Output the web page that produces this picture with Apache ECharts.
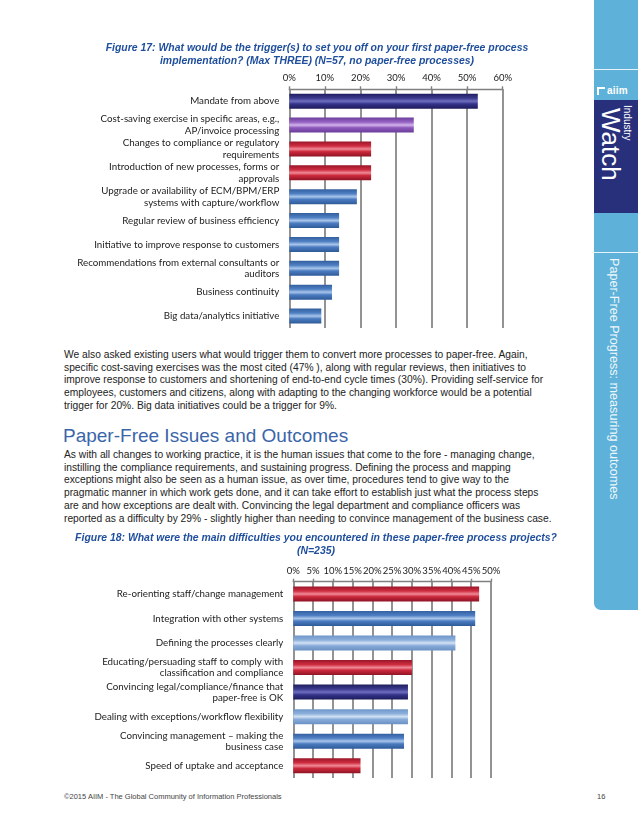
<!DOCTYPE html>
<html>
<head>
<meta charset="utf-8">
<script src="https://cdn.jsdelivr.net/npm/echarts@6/dist/echarts.min.js"></script>
<style>
  html,body{margin:0;padding:0;background:#fff;}
  #page{position:relative;width:638px;height:826px;overflow:hidden;font-family:"Liberation Sans",Arial,sans-serif;}
  #chart{position:absolute;left:0;top:0;width:638px;height:826px;}
  .para{position:absolute;left:64px;font-size:10.25px;line-height:12.7px;color:#222;white-space:nowrap;}
  .h2{position:absolute;left:63px;font-size:19px;color:#3b65a9;white-space:nowrap;}
  #side{position:absolute;left:594px;top:0;width:44px;height:610px;background:#5eb1d8;border-bottom-left-radius:7px;}
  .wl{position:absolute;left:0;width:44px;height:1px;background:rgba(255,255,255,0.85);}
  #navy{position:absolute;left:0;top:100px;width:44px;height:113px;background:#28307c;}
  .vt{position:absolute;writing-mode:vertical-rl;color:#fff;white-space:nowrap;}
  #foot{position:absolute;left:64px;top:792px;font-size:7.5px;color:#444;}
  #pg{position:absolute;left:597px;top:792px;font-size:7.5px;color:#444;}
</style>
</head>
<body>
<div id="page">
  <div id="side">
    <div class="wl" style="top:69px"></div>
    <div style="position:absolute;left:3px;top:85px;font-size:10px;font-weight:bold;color:#fff;letter-spacing:0.2px;"><span style="display:inline-block;width:8px;height:8px;border-left:2px solid #fff;border-top:2px solid #fff;box-sizing:border-box;margin-right:2px;vertical-align:-1px;"></span>aiim</div>
    <div id="navy">
      <div class="vt" style="left:28px;top:5px;font-size:10px;">Industry</div>
      <div class="vt" style="left:4px;top:8px;font-size:26px;line-height:25px;">Watch</div>
    </div>
    <div class="wl" style="top:252px"></div>
    <div class="vt" style="left:13px;top:258px;font-size:12.6px;color:#eef7fb;">Paper-Free Progress: measuring outcomes</div>
  </div>
  <div class="para" style="top:349px">We also asked existing users what would trigger them to convert more processes to paper-free. Again,<br>specific cost-saving exercises was the most cited (47% ), along with regular reviews, then initiatives to<br>improve response to customers and shortening of end-to-end cycle times (30%). Providing self-service for<br>employees, customers and citizens, along with adapting to the changing workforce would be a potential<br>trigger for 20%. Big data initiatives could be a trigger for 9%.</div>
  <div class="h2" style="top:425px">Paper-Free Issues and Outcomes</div>
  <div class="para" style="top:449px">As with all changes to working practice, it is the human issues that come to the fore - managing change,<br>instilling the compliance requirements, and sustaining progress. Defining the process and mapping<br>exceptions might also be seen as a human issue, as over time, procedures tend to give way to the<br>pragmatic manner in which work gets done, and it can take effort to establish just what the process steps<br>are and how exceptions are dealt with. Convincing the legal department and compliance officers was<br>reported as a difficulty by 29% - slightly higher than needing to convince management of the business case.</div>
  <div id="foot">©2015 AIIM - The Global Community of Information Professionals</div>
  <div id="pg">16</div>
  <div id="chart"></div>
</div>
<script>
// ---- Figure 17 data ----
const fig17Categories = [
  "Mandate from above",
  "Cost-saving exercise in specific areas, e.g.,\nAP/invoice processing",
  "Changes to compliance or regulatory\nrequirements",
  "Introduction of new processes, forms or\napprovals",
  "Upgrade or availability of ECM/BPM/ERP\nsystems with capture/workflow",
  "Regular review of business efficiency",
  "Initiative to improve response to customers",
  "Recommendations from external consultants or\nauditors",
  "Business continuity",
  "Big data/analytics initiative"
];
const fig17Values = [53, 35, 23, 23, 19, 14, 14, 14, 12, 9];
const fig17Colors = ["navy", "purple", "red", "red", "blue", "blue", "blue", "blue", "blue", "blue"];

// ---- Figure 18 data ----
const fig18Categories = [
  "Re-orienting staff/change management",
  "Integration with other systems",
  "Defining the processes clearly",
  "Educating/persuading staff to comply with\nclassification and compliance",
  "Convincing legal/compliance/finance that\npaper-free is OK",
  "Dealing with exceptions/workflow flexibility",
  "Convincing management \u2013 making the\nbusiness case",
  "Speed of uptake and acceptance"
];
const fig18Values = [47, 46, 41, 30, 29, 29, 28, 17];
const fig18Colors = ["red", "blue", "light", "red", "navy", "light", "blue", "red"];

const fig17Title = "Figure 17: What would be the trigger(s) to set you off on your first paper-free process\nimplementation? (Max THREE) (N=57, no paper-free processes)";
const fig18Title = "Figure 18: What were the main difficulties you encountered in these paper-free process projects?\n(N=235)";

const palettes = {
  navy:   ["#1f1e5e", "#3b3a8e", "#6f6fc0", "#34338a", "#1c1b58"],
  purple: ["#6d3f9c", "#9662c4", "#d2b4ea", "#8c58bc", "#6a3c98"],
  red:    ["#9a1628", "#cf2c40", "#f08a96", "#cc283c", "#8e1424"],
  blue:   ["#335f9f", "#4f80c4", "#a9c5ea", "#4a7bc0", "#2f5a98"],
  light:  ["#6f96c8", "#8cb0dc", "#d3e2f4", "#88acd9", "#6a91c4"]
};
function grad(name) {
  const c = palettes[name];
  return new echarts.graphic.LinearGradient(0, 0, 0, 1, [
    {offset: 0, color: c[0]}, {offset: 0.3, color: c[1]}, {offset: 0.5, color: c[2]},
    {offset: 0.68, color: c[3]}, {offset: 1, color: c[4]}
  ]);
}

const chart = echarts.init(document.getElementById('chart'), null, {renderer: 'canvas'});
const catLabel = {fontFamily: 'Lato, "Open Sans", sans-serif', fontSize: 9.75, color: '#222', lineHeight: 11.5, margin: 10, align: 'right'};
const gridLine = {show: true, lineStyle: {color: '#808080', width: 1.7}};
function valueAxis(gridIndex, max, interval) {
  return {
    type: 'value', gridIndex, position: 'top', min: 0, max, interval,
    axisLine: {show: true, lineStyle: {color: '#808080', width: 1.4}},
    axisTick: {show: true, length: 3, lineStyle: {color: '#808080', width: 1.4}},
    axisLabel: {formatter: '{value}%', fontFamily: 'Lato, sans-serif', fontSize: 9.5, color: '#222', margin: 6},
    splitLine: gridLine
  };
}
function catAxis(gridIndex, data) {
  return {
    type: 'category', gridIndex, data, inverse: true,
    axisLine: {show: false}, axisTick: {show: false},
    axisLabel: catLabel
  };
}
const titleStyle = {fontFamily: '"Liberation Sans", Arial', fontStyle: 'italic', fontWeight: 'bold', fontSize: 10.45, color: '#1f4e9c', lineHeight: 12.5};

chart.setOption({
  animation: false,
  title: [
    {text: fig17Title, left: 312, top: 37, textAlign: 'center', textStyle: titleStyle},
    {text: fig18Title, left: 311, top: 527, textAlign: 'center', textStyle: titleStyle}
  ],
  grid: [
    {left: 289.3, right: 135.3, top: 89.3, bottom: 498},
    {left: 293.3, right: 147, top: 581.7, bottom: 48}
  ],
  xAxis: [valueAxis(0, 60, 10), valueAxis(1, 50, 5)],
  yAxis: [catAxis(0, fig17Categories), catAxis(1, fig18Categories)],
  series: [
    {type: 'bar', xAxisIndex: 0, yAxisIndex: 0, barWidth: 15,
     data: fig17Values.map((v, i) => ({value: v, itemStyle: {color: grad(fig17Colors[i])}}))},
    {type: 'bar', xAxisIndex: 1, yAxisIndex: 1, barWidth: 15,
     data: fig18Values.map((v, i) => ({value: v, itemStyle: {color: grad(fig18Colors[i])}}))}
  ]
});
</script>
</body>
</html>
